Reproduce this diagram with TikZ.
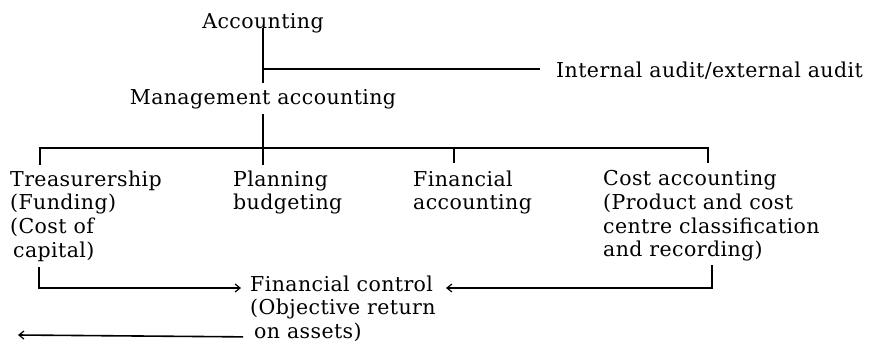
\documentclass[tikz,border=0pt]{standalone}
\usepackage{fontspec}
\setmainfont{DejaVu Serif}[LetterSpace=2]
\usetikzlibrary{arrows.meta}
\begin{document}
\begin{tikzpicture}[x=1pt,y=-1pt,
  lbl/.style={inner sep=0pt, font=\fontsize{20.5}{23.6}\selectfont},
  blk/.style={lbl, align=left, anchor=north west},
  link/.style={line width=2.2pt},
  flow/.style={line width=1.6pt, -{Straight Barb[length=5pt,width=8pt,line width=1.2pt]}}]
  \useasboundingbox (0,0) rectangle (874,351);

  % titles of the hierarchy
  \node[lbl, anchor=base] (acc) at (263,28) {Accounting};
  \node[lbl, anchor=base] (mgmt) at (263,104) {Management accounting};
  \node[lbl, anchor=base west] (audit) at (556,77) {Internal audit/external audit};

  % the four functions
  \node[blk] (treas) at (10,170.5) {Treasurership\\(Funding)\\(Cost of\\\hspace{3pt}capital)};
  \node[blk] (plan) at (233,170.5) {Planning\\budgeting};
  \node[blk] (fin) at (413,170.5) {Financial\\accounting};
  \node[blk] (cost) at (603,170.5) {Cost accounting\\(Product and cost\\centre classification\\and recording)};

  % control
  \node[blk] (fc) at (250,275.5) {Financial control\\(Objective return\\\hspace{4pt}on assets)};

  % junctions and free ends
  \coordinate (jAudit) at (263,69);
  \coordinate (busL) at (40,148);
  \coordinate (busR) at (708,148);
  \coordinate (busF) at (454,148);
  \coordinate (hookL) at (39,267);
  \coordinate (hookR) at (712,265);
  \coordinate (retEnd) at (18,335);

  % tree
  \draw[link] (acc.base) -- ([yshift=6pt]mgmt.north);
  \draw[link] (jAudit) -- ([xshift=-16pt]audit.west |- jAudit);
  \draw[link] ([yshift=-5pt]mgmt.south) -- ([yshift=6pt]plan.north -| mgmt.south);
  \draw[link] ([yshift=6pt]treas.north -| busL) -- (busL) -- (busR) -- ([yshift=8pt]cost.north -| busR);
  \draw[link] (busF) -- ([yshift=8pt]fin.north -| busF);

  % flows into and out of financial control
  \draw[flow] (hookL) -- (hookL |- 0,288) -- ([xshift=-9pt]fc.north west |- 0,288);
  \draw[flow] (hookR) -- (hookR |- 0,288) -- ([xshift=196pt]fc.north west |- 0,288);
  \draw[flow] ([xshift=-7pt]fc.south west) ++(0,-5) -- (retEnd);
\end{tikzpicture}
\end{document}
